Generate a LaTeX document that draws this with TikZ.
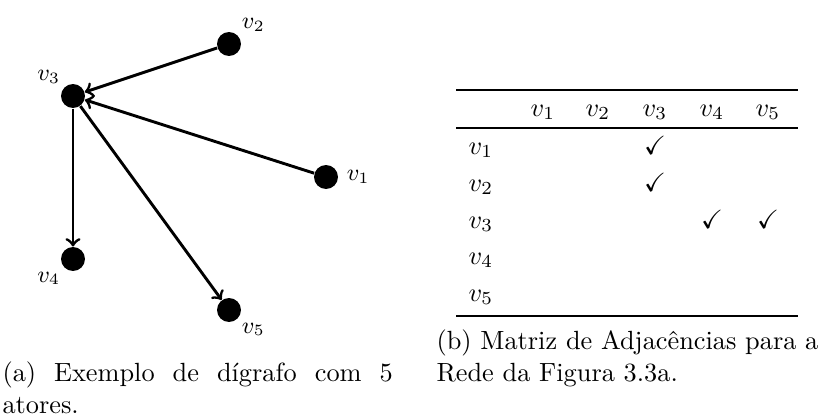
\documentclass[tikz,border=0pt]{standalone}
\usepackage{amssymb}
\usetikzlibrary{positioning}

\begin{document}
\begin{tikzpicture}[
  x = 0.38pt, y = -0.38pt,
  actor/.style = {circle, fill=black, minimum size=9.1pt, inner sep=0pt},
  vlabel/.style = {font=\small, inner sep=1pt},
  arc/.style = {draw, ->, line width=1.1pt},
  cell/.style = {anchor=base, inner sep=0pt},
  capline/.style = {anchor=base west, inner sep=0pt},
]
\useasboundingbox (0,0) rectangle (820,419);

% (a) the digraph
\node[actor] (v1) at (326,177) {};
\node[actor] (v2) at (229,44)  {};
\node[actor] (v3) at (73,96)   {};
\node[actor] (v4) at (73,259)  {};
\node[actor] (v5) at (229,310) {};

\node[vlabel, right=2pt of v1]         (l1) {$v_1$};
\node[vlabel, above right=0.5pt of v2] (l2) {$v_2$};
\node[vlabel, above left=0.5pt of v3]  (l3) {$v_3$};
\node[vlabel, below left=0.5pt of v4]  (l4) {$v_4$};
\node[vlabel, below right=0.5pt of v5] (l5) {$v_5$};

\foreach \from/\to in {v1/v3, v2/v3, v3/v4, v3/v5}
  \draw[arc] (\from) -- (\to);

% (b) the adjacency matrix, rules in the booktabs manner
\draw[line width=0.8pt] (456,90)  -- (798,90);
\draw[line width=0.5pt] (456,128) -- (798,128);
\draw[line width=0.8pt] (456,316) -- (798,316);

\foreach \i/\x in {1/543, 2/598, 3/655, 4/712, 5/768}
  \node[cell] (h\i) at (\x,116) {$v_\i$};
\foreach \i/\y in {1/154, 2/191, 3/228, 4/264, 5/301}
  \node[cell] (r\i) at (481,\y) {$v_\i$};
\foreach \r/\c in {1/3, 2/3, 3/4, 3/5}
  \node[cell] (c\r\c) at (h\c.base |- r\r.base) {$\checkmark$};

% captions, the first line of (a) stretched as LaTeX justifies it
\node[capline] (capa1) at (2,381)   {\makebox[148.3pt][s]{(a) Exemplo de dígrafo com 5}};
\node[capline] (capa2) at (2,413)   {atores.};
\node[capline] (capb1) at (436,349) {(b) Matriz de Adjacências para a};
\node[capline] (capb2) at (436,381) {Rede da Figura 3.3a.};

\end{tikzpicture}
\end{document}
